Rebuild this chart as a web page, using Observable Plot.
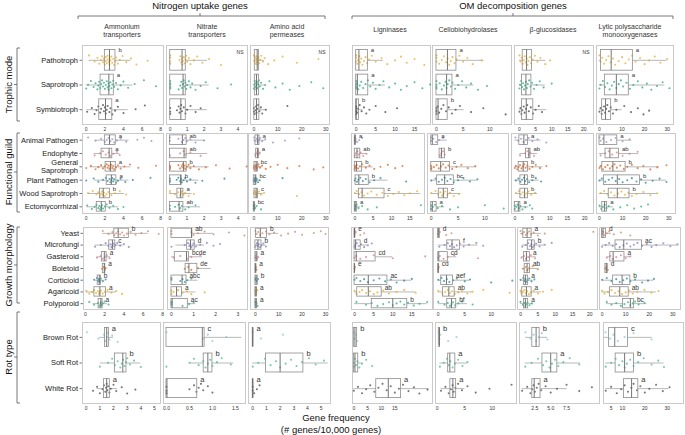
<!DOCTYPE html>
<html><head><meta charset="utf-8">
<script src="https://cdn.jsdelivr.net/npm/d3@7"></script>
<script src="https://cdn.jsdelivr.net/npm/@observablehq/plot@0.6"></script>
<style>
body{margin:0;background:#fff;font-family:"Liberation Sans",Arial,sans-serif;}
#wrap{position:relative;width:685px;height:435px;overflow:hidden;background:#fff;}
#wrap svg{position:absolute;overflow:visible;}
</style></head><body><div id="wrap"></div>
<script>
// ---------- DATA ----------
const groupTitles = ["Nitrogen uptake genes", "OM decomposition genes"];
const genes = ["Ammonium\ntransporters","Nitrate\ntransporters","Amino acid\npermeases","Ligninases","Cellobiohydrolases","β-glucosidases","Lytic polysaccharide\nmonooxygenases"];
const rowTitles = ["Trophic mode","Functional guild","Growth morphology","Rot type"];
const xTitle = ["Gene frequency","(# genes/10,000 genes)"];

const trophicCats = ["Pathotroph","Saprotroph","Symbiotroph"];
const guildCats = ["Animal Pathogen","Endophyte","General\nSaprotroph","Plant Pathogen","Wood Saprotroph","Ectomycorrhizal"];
const morphCats = ["Yeast","Microfungi","Gasteroid","Boletoid","Corticioid","Agaricoid","Polyporoid"];
const rotCats = ["Brown Rot","Soft Rot","White Rot"];

// tick labels per gene
const trophicTicks = [[0,2,4,6,8],[0,1,2,3,4],[0,10,20,30],[0,5,10,15],[0,5,10],[0,5,10,15,20],[0,10,20,30]];
const guildTicks   = [[0,2,4,6,8],[0,1,2,3,4],[0,10,20,30],[0,5,10,15],[0,5,10],[0,5,10,15,20],[0,10,20,30]];
const morphTicks   = [[0,2,4,6,8],[0,1,2,3],[0,10,20,30],[0,5,10,15],[0,5,10],[0,5,10,15,20],[0,10,20,30]];
const rotTicks     = [[0,1,2,3,4,5],[0,0.5,1,1.5],[0,1,2,3,4,5],[0,5,10,15],[0,5,10],[2.5,5,7.5],[5,10,20,30]];

// "NS" (not significant) panels
const trophicNS = [false,true,true,false,false,true,false];

// box stats: [gene][category] = [q1, median, q3, whiskerLow, whiskerHigh, letter]
const trophicStats = [
 [[2.0,2.5,3.14,0.3,4.8,"b"],[1.54,2.43,2.96,0,5.0,"a"],[1.4,2.07,2.8,0.1,4.5,"a"]],
 [[0,0.7,0.92,0,2.2,""],[0,0.76,0.92,0,2.3,""],[0,0.63,0.92,0,2.2,""]],
 [[0.4,1.4,2.1,0,4.6,""],[0.4,1.1,2.1,0,4.6,""],[0.2,1.1,2.3,0,5,""]],
 [[0,0.7,3.0,0,7,"a"],[0,0.3,3.1,0,7.5,"a"],[0,0,0.7,0,1.7,"b"]],
 [[0,2.06,3.75,0,8.9,"a"],[0,1.9,3.0,0,7,"a"],[0,0.3,2.1,0,5.2,"b"]],
 [[1.0,2.2,3.9,0,8.2,""],[0.8,2.0,3.7,0,8,""],[0.8,2.1,4.3,0,8.5,""]],
 [[0.7,5.2,14.8,0,30,"a"],[2.4,7.5,13,0,29,"a"],[1.2,2.7,5.2,0,10,"b"]]
];
const guildStats = [
 [[2.0,2.5,3.17,0.95,4.6,"a"],[1.65,2.46,2.8,0.85,3.6,"a"],[2.08,2.6,3.17,0.4,4.8,"a"],[2.2,2.7,3.24,0.9,4.6,"a"],[1.48,1.83,2.54,0.2,4.1,"b"],[1.13,1.62,2.1,0.1,3.5,"b"]],
 [[0,0.73,0.98,0,2.1,"ab"],[0,0.83,0.98,0,2.2,"ab"],[0,0.79,0.98,0,2.3,"b"],[0,0.63,0.69,0,1.7,"b"],[0.44,0.63,0.79,0,1.3,"a"],[0,0.54,0.79,0,1.8,"ab"]],
 [[0.7,1.6,2.4,0,4.8,"a"],[1,1.6,2.1,0.5,3,"a"],[0.3,1.0,1.7,0,3.8,"bc"],[0,0.6,1.1,0,2.5,"bc"],[0.3,1.0,1.8,0,4,"c"],[0,0.1,0.4,0,1,"bc"]],
 [[0,0,0.3,0,0.7,"a"],[0,0.6,1.5,0,3.2,"ab"],[0,0.45,2.0,0,5,"b"],[0.2,1.1,3.8,0,9,"b"],[1.1,2.0,8.1,0,18,"c"],[0,0.1,0.6,0,1.5,"a"]],
 [[0,0.2,1.3,0,3,"a"],[1.55,1.9,2.55,1.55,2.55,"b"],[0,1.75,3.5,0,8.5,"c"],[1.1,2.5,4.2,0,8.5,"bc"],[1.4,2.25,3.1,0,5.5,"c"],[0,0.2,1.0,0,2.5,"a"]],
 [[1.3,2.6,3.8,0,7.5,"a"],[3.2,4.0,4.5,1.5,6.5,"ab"],[1.1,2.4,3.8,0,8,"b"],[1.6,2.8,3.8,0,7,"b"],[1.6,2.8,3.8,0.3,6.5,"b"],[0,1.0,1.6,0,4,"a"]],
 [[0,1.9,7.7,0,14,"a"],[2.6,4.5,8.4,0,17,"ab"],[1.2,5.8,11.3,0,26,"b"],[1.9,7.7,17.5,0,29,"b"],[4,7.7,13,0,25,"b"],[1.2,2.2,3.3,0,6,"a"]]
];
const morphStats = [
 [[3.0,3.4,4.5,1.8,6.5,"b"],[2.47,2.8,3.1,1.0,4.0,"c"],[1.7,1.96,2.2,1.2,2.6,"a"],[1.8,1.96,2.06,1.7,2.2,"a"],[1.27,1.44,1.6,1.0,2.0,"b"],[0.93,1.5,2.13,0.07,3.2,"a"],[1.37,1.6,1.78,0.8,2.3,"a"]],
 [[0,0.91,0.94,0,1.9,"ab"],[0.71,0.86,1.05,0.2,1.5,"d"],[0.15,0.68,0.79,0,1.4,"bcde"],[0.64,0.79,1.17,0.6,1.8,"de"],[0,0.48,0.68,0,1.2,"abc"],[0,0.23,0.48,0,1.1,"a"],[0,0.03,0.74,0,1.1,"ac"]],
 [[0.3,2.1,5,0,10,"b"],[0,1.1,2.6,0,4.5,"b"],[0,0.3,0.9,0,1.2,"a"],[0,0.1,0.4,0,0.4,"a"],[0,0.3,1,0,1.1,"b"],[0,0.2,0.7,0,0.8,"a"],[0,0.2,0.7,0,0.9,"a"]],
 [[0,0,0.2,0,0.3,"e"],[0,0.27,1.6,0,3.5,"d"],[0,0.45,5.5,0,10,"cd"],[0,0,0.1,0,0.1,"e"],[0,3.6,8.6,0,15,"ac"],[0.7,3.6,7.1,0,16,"ab"],[4.5,10,13.8,0,19,"b"]],
 [[0,0,0.3,0,0.3,"d"],[1.7,2.6,4.1,0,7.5,"f"],[0,0.1,1.8,0,3.5,"cd"],[0,0,0.1,0,0.1,"cd"],[0.56,1.56,2.8,0,6,"aef"],[0.9,2.0,3.1,0,6.5,"ab"],[1.7,2.5,3.4,0,5.5,"bf"]],
 [[0.8,1.9,3.2,0,6,"a"],[2.1,3.2,4.1,0.5,7,"b"],[1.0,1.7,2.7,0.3,4.5,"a"],[1.2,1.9,2.7,0.5,5,"ab"],[1.0,1.4,2.2,0,3.5,"a"],[0.5,1.7,3.2,0,6,"a"],[1.0,1.4,2.2,0,3.5,"a"]],
 [[0,0.4,1.7,0,4,"d"],[5.7,9.2,17,0,32,"ac"],[3.5,4.7,9.5,2,12,"a"],[1.4,1.8,2.4,1.4,2.4,"d"],[4.7,8.5,12,0,22,"b"],[3.3,7.5,11.3,0,23,"ab"],[8.9,12,13.5,2,19,"bc"]]
];
const rotStats = [
 [[1.37,1.5,1.66,1.0,2.0,"a"],[2.1,2.68,2.95,1.05,4.0,"b"],[1.3,1.5,1.73,0.8,2.3,"a"]],
 [[0,0.78,0.83,0,1.64,"c"],[0.81,0.9,1.0,0.52,1.46,"b"],[0,0.01,0.67,0,0.67,"a"]],
 [[0,0,0.05,0,0.05,"a"],[0.97,2.0,3.7,0,5.5,"b"],[0,0,0.05,0,0.05,"a"]],
 [[0,0.4,1.2,0,1.2,"b"],[0,0.4,1.6,0,3,"b"],[8.2,12.6,17.3,0,27.4,"a"]],
 [[0.3,0.4,0.5,0.3,0.5,"b"],[2.0,2.3,3.3,0.5,5.5,"a"],[2.4,2.85,3.45,0.7,5,"a"]],
 [[2.1,2.7,3.26,1.05,4.5,"b"],[3.7,5.0,6.05,1.0,9.7,"a"],[2.1,2.4,3.4,0.5,7.6,"a"]],
 [[4.1,6.6,12.5,2,23.3,"c"],[7.0,11.0,15.2,2.6,28.5,"b"],[10.7,14.1,17.1,2.6,30.7,"a"]]
];

// individual genomes (estimated): [gene][category] = values
const trophicPoints = [
 [[0.3,0.9,1.2,1.4,1.6,1.7,1.8,1.9,2.0,2.1,2.1,2.2,2.3,2.3,2.4,2.5,2.5,2.6,2.7,2.8,2.9,3.0,3.1,3.2,3.4,3.6,3.9,4.3,4.8,5.4,6.6],
  [0,0.2,0.5,0.8,1.0,1.2,1.3,1.4,1.5,1.6,1.7,1.8,1.9,2.0,2.1,2.2,2.3,2.4,2.4,2.5,2.6,2.7,2.8,2.9,3.0,3.2,3.4,3.7,4.0,4.5,5.2,6.2,7.5],
  [0.1,0.6,0.9,1.1,1.3,1.5,1.6,1.8,1.9,2.0,2.1,2.2,2.3,2.5,2.6,2.8,3.1,3.4,4.0,5.3,6.3]],
 [[0,0,0,0,0.55,0.6,0.65,0.7,0.72,0.75,0.8,0.85,0.9,0.95,1.0,1.1,1.2,1.4,1.6,1.9,2.3,3.0],
  [0,0,0,0,0,0.5,0.6,0.65,0.7,0.75,0.8,0.85,0.9,0.95,1.0,1.1,1.2,1.3,1.5,1.8,2.1,2.8,3.6],
  [0,0,0,0.4,0.5,0.55,0.6,0.65,0.7,0.8,0.9,1.0,1.2,1.5,1.8]],
 [[0,0.3,0.5,0.7,0.9,1.0,1.2,1.3,1.5,1.7,1.9,2.2,2.6,3.1,3.8,4.5,6,8.5,12,18,27],
  [0,0.2,0.4,0.6,0.8,1.0,1.1,1.3,1.5,1.8,2.1,2.5,3.0,3.8,4.7,6.5,9,12,15,19,24,29],
  [0,0,0.3,0.6,0.9,1.1,1.4,1.8,2.3,2.9,3.5,5,14]],
 [[0,0,0,0.3,0.5,0.8,1.0,1.3,1.6,2.0,2.4,2.8,3.3,4,5,6.5,8,10,11.5,13,15,17.5],
  [0,0,0,0,0.2,0.5,0.9,1.3,1.8,2.4,3,3.6,4.3,5,6,7,8.5,10,11.5,13,15,17,19],
  [0,0,0,0,0,0.2,0.5,0.9,1.4,2,2.6,3.4,5,7.5,10.5]],
 [[0,0,0,0.5,1.0,1.4,1.8,2.1,2.4,2.7,3.0,3.4,3.8,4.3,5,5.8,6.8,8.5],
  [0,0,0,0,0.6,1.0,1.4,1.7,1.9,2.1,2.4,2.7,3.0,3.5,4.1,4.8,5.6,6.5,7.8,9.5],
  [0,0,0,0,0.2,0.5,0.9,1.3,1.8,2.3,2.9,3.6,4.4,6.5,8.8,13]],
 [[0,0.3,0.7,1.0,1.3,1.6,1.9,2.2,2.5,2.8,3.2,3.6,4.1,4.8,5.6,6.5,8,9.5],
  [0,0.2,0.5,0.8,1.1,1.4,1.7,2.0,2.3,2.6,3.0,3.4,3.9,4.5,5.3,6.3,7.5,10],
  [0,0.3,0.6,0.9,1.3,1.6,2.0,2.4,2.9,3.5,4.2,5,6,7]],
 [[0,0.5,1.2,2,3,4,5,6,7,8.5,10,11.5,13,14.5,16,18,20,22,24.5,27,30],
  [0,0.5,1.5,2.5,3.5,4.5,5.5,6.5,7.5,8.5,9.5,10.5,12,13.5,15,17,19,21,23,25.5,28,31],
  [0,0.5,1,1.5,2,2.5,3,3.5,4.2,5,6,7.5,11,14,17,19.5,22]]
];
const guildPoints = [
 [[0.2,1.0,1.6,2.0,2.2,2.4,2.6,2.8,3.0,3.3,3.7,4.3,5.5,6.2,7.0],[0.9,1.5,1.8,2.1,2.4,2.6,2.9,3.3,3.6],
  [0,0.5,1.0,1.3,1.6,1.8,2.0,2.2,2.3,2.4,2.5,2.6,2.7,2.8,2.9,3.0,3.2,3.4,3.7,4.1,4.7,5.6,7.5],
  [0,0.8,1.3,1.8,2.1,2.3,2.5,2.6,2.7,2.8,2.9,3.0,3.2,3.4,3.7,4.2,5.0,6.9],
  [0.2,0.7,1.1,1.3,1.5,1.6,1.7,1.8,1.9,2.0,2.2,2.4,2.7,3.1,3.6,4.3],
  [0.1,0.6,0.9,1.1,1.3,1.4,1.5,1.6,1.7,1.8,2.0,2.2,2.5,2.9,3.4,4.0]],
 [[0,0,0.5,0.7,0.8,0.9,1.0,1.2,1.5,2.0],[0,0.6,0.8,0.9,1.2,1.8],
  [0,0,0,0,0.5,0.6,0.7,0.75,0.8,0.85,0.9,1.0,1.1,1.2,1.4,1.7,2.1,2.7,3.5,4.5],
  [0,0,0,0.4,0.5,0.6,0.65,0.7,0.8,0.9,1.0,1.2,1.5,1.9,3.2],
  [0,0,0.3,0.5,0.6,0.65,0.7,0.8,0.9,1.1,1.4],[0,0,0.3,0.5,0.6,0.7,0.9,1.1,1.5]],
 [[0.2,0.8,1.3,1.7,2.1,2.6,3.5,4.8,8,13,19],[0.6,1.2,1.6,2.0,2.5],
  [0,0.2,0.5,0.8,1.0,1.3,1.6,2.0,2.6,3.5,5,7,10,14,19,25,29],
  [0,0.2,0.4,0.6,0.8,1.0,1.3,1.8,2.5,12],[0,0.3,0.6,0.9,1.2,1.6,2.2,3,4.3,18],[0,0,0.1,0.3,0.6,1.2,3]],
 [[0,0,0.2,0.6,1.2,2],[0,0.3,0.7,1.1,1.6,2.3,3.2],[0,0,0,0.2,0.5,0.9,1.4,2,3,4,5.3,7,9,11,13],
  [0,0.2,0.6,1.0,1.5,2.2,3,4,5.3,7,14],[0,0.5,1.2,1.8,2.5,3.5,4.5,6,7.5,9,10.5,12,13.5,15,17],[0,0,0.2,0.5,1,2,3.5,6,18]],
 [[0,0,0.4,0.9,1.5,2.2],[1.6,1.9,2.2,2.5],[0,0,0,0.5,1.0,1.4,1.8,2.2,2.7,3.2,3.9,4.7,5.6,6.8,8.2],
  [0,0.8,1.4,2.0,2.5,3.0,3.6,4.2,5,6,7.2,8.6],[0,0.8,1.3,1.7,2.0,2.3,2.6,3.0,3.5,4.2,5.2],[0,0,0.3,0.7,1.2,2.0,3.5,5,10,13.5]],
 [[0.2,1.0,1.8,2.5,3.2,4.0,5,6.5,9],[1.5,3.0,3.6,4.0,4.4,5.5],[0,0.3,0.7,1.1,1.5,1.9,2.3,2.7,3.1,3.6,4.2,5,6,7.2,9],
  [0.3,1.0,1.6,2.1,2.6,3.0,3.5,4.1,5,6,7.5],[0.3,1.2,1.8,2.3,2.8,3.3,3.9,4.7,5.8],[0,0,0.4,0.8,1.2,1.6,2.2,3,4.3,5]],
 [[0,0.5,1.5,3,5,7,10,13],[0.5,2.5,4,5.5,7.5,10,13,16.5],[0,0.5,1.5,2.5,3.5,4.5,5.5,6.5,7.5,9,10.5,12,14,16.5,19,22,25,29],
  [0,1,2.5,4,5.5,7,8.5,10,12,14,16,18,20,23,26,29],[0.5,2,3.5,5,6.5,8,9.5,11,12.5,14,16,19,22,25],[0,0.8,1.5,2.2,3.0,4,6,9,12,15,18,21]]
];
const morphPoints = [
 [[1.8,2.4,2.8,3.0,3.2,3.4,3.6,3.8,4.0,4.3,4.7,5.2,5.8,6.5,7.6],[1.0,1.6,2.1,2.4,2.6,2.7,2.8,2.9,3.0,3.1,3.3,3.6,4.0,4.5],
  [1.2,1.6,1.8,2.0,2.2,2.5],[1.75,1.9,2.0,2.1],[0.9,1.2,1.3,1.4,1.45,1.5,1.6,1.8,2.1],
  [0.1,0.4,0.7,0.9,1.1,1.3,1.4,1.5,1.6,1.8,2.0,2.3,2.7,3.2,3.8],[0.4,0.9,1.3,1.45,1.55,1.6,1.7,1.8,2.0,2.4]],
 [[0,0,0.9,1.0,1.2,1.5,1.9,2.6,3.3],[0,0.6,0.75,0.8,0.85,0.9,0.95,1.0,1.1,1.3,1.6,1.9,2.2],[0.1,0.4,0.7,0.9,1.3],
  [0.6,0.75,0.9,1.2],[0,0,0.4,0.5,0.6,0.7,0.9],[0,0,0.1,0.3,0.5,0.7,0.9,1.5],[0,0,0,0.5,0.8,1.0]],
 [[0,0.5,1.2,2,3,4.5,6,8,11,14,17,20,25,28,30],[0,0.3,0.7,1.1,1.5,2,2.6,3.4,4.5],[0,0.3,0.7,1.2],[0,0.2,0.4],
  [0,0.2,0.6,1.1],[0,0.1,0.4,0.8],[0,0.2,0.5,0.9]],
 [[0,0,0.3,1.5,2.5],[0,0.2,0.6,1.1,1.7,2.5,3.5,4.5],[0,0.4,1.5,3,5,10,18.5],[0,0.1],
  [0,0.5,1.5,2.5,3.5,5,6.5,8,9.5,11,13,15],[0,0.5,1.3,2,3,4,5,6,7.5,9,11,13,16],[0.5,3,4.5,6,7.5,9,10,11,12,13,14,15.5,17,19]],
 [[0,0,0.3,1.5,2.5],[0.2,1.2,1.8,2.2,2.6,3.0,3.5,4.1,4.8,5.8,7.2,8.5],[0,0.3,1,1.8,3,7.5],[0,0.1],
  [0,0.6,1.1,1.6,2.1,2.8,3.5,5,6,10,14],[0,0.8,1.3,1.8,2.2,2.6,3.1,3.8,4.5,5.5,6.5,8.5,13.5],[0,1.2,1.8,2.2,2.5,2.8,3.2,3.8,4.5,6.5]],
 [[0,0.5,1.0,1.5,2.0,2.5,3.0,3.8,5,7,21],[0.5,1.5,2.2,2.7,3.1,3.5,3.9,4.5,5.5,7,9],[0.3,1.0,1.6,2.2,3.0,4.2],
  [0.8,1.5,2.0,2.5,3.5,5],[0,0.8,1.2,1.4,1.7,2.0,2.5,3.2,4],[0,0.3,0.7,1.1,1.5,1.9,2.4,3.0,3.8,5,6.5,9],[0,0.7,1.1,1.4,1.7,2.0,2.6,3.3]],
 [[0,0,0.5,1,2,3,5,8,12],[0,1.5,3,4.5,6,7.5,9,10.5,12,13.5,15,17,19,21,23,26,29,32],[2,3.5,4.5,6,8,10,12],[1.4,1.8,2.4],
  [0,2,4,6,7.5,9,10.5,12,14,17,19.5,22],[0,1,2.5,4,5.5,7,8.5,10,11.5,13,15,18,21,24],[2,4,6,8,9.5,11,12,13,14,15.5,18]]
];
const rotPoints = [
 [[0.05,0.9,1.3,1.4,1.5,1.6,1.7,1.9,2.3],[1.0,1.6,1.9,2.1,2.3,2.5,2.6,2.7,2.8,2.9,3.0,3.2,3.5,4.0],
  [0.5,0.8,1.0,1.2,1.3,1.4,1.45,1.5,1.55,1.6,1.7,1.8,2.0,2.2,2.6,3.0,3.6]],
 [[0,0.8,0.9,1.0,1.3],[0,0.5,0.6,0.7,0.8,0.85,0.9,0.95,1.0,1.1,1.2,1.4],[0,0,0,0.5,0.6,0.65,0.7,0.75,0.8,0.9,1.0]],
 [[0,0.6,2.2],[0,0.4,0.9,1.3,1.7,2.0,2.4,2.8,3.2,3.6,4.1,4.6,5.2],[0,0,0.1,0.3,0.5]],
 [[0,0.3,0.8,1.2],[0,0,0.3,0.8,1.3,2,3,4.5,6.7],[0,1.5,3,4.5,6,7.5,9,10.5,12,13.5,15,16.5,18,20,22,24,27]],
 [[0.3,0.4,0.6,2,3.5],[0.5,1.2,1.8,2.1,2.4,2.8,3.2,3.8,4.6,5.5],[0.7,1.5,2.1,2.5,2.8,3.0,3.3,3.8,4.5,5.5,7,9.5,13.5]],
 [[1.0,1.8,2.3,2.7,3.1,3.6,4.5],[1.0,2.0,3.0,3.8,4.3,4.8,5.2,5.7,6.2,7.0,8.0,9.5],[0.5,1.3,1.8,2.1,2.3,2.5,2.8,3.1,3.5,4.2,5,6,7.5,9.5,11.5]],
 [[2.5,4.5,6,8,11,15,23],[2.6,5,7,8.5,10,11,12,13.5,15,17,19.5,23,26,28.5],[2.6,5,7.5,9.5,11,12.5,14,15,16.5,18,20,22,25,28,31]]
];

// ---------- STYLE / LAYOUT ----------
const trophicColors = ["#E5A823","#1DA37A","#3a3a3a"];
const guildColors = ["#8C84C2","#D9777F","#D95F1B","#197E8B","#E6AA20","#22A57C"];
const morphColors = ["#C9825F","#7A77B7","#E06F8A","#DD6612","#1A7F8E","#E6A815","#22A57C"];
const rotColors = ["#86BDD0","#3BB58B","#3f3f3f"];

const rows = [
 {cats: trophicCats, colors: trophicColors, stats: trophicStats, pts: trophicPoints, ticks: trophicTicks, ns: trophicNS},
 {cats: guildCats, colors: guildColors, stats: guildStats, pts: guildPoints, ticks: guildTicks, ns: null},
 {cats: morphCats, colors: morphColors, stats: morphStats, pts: morphPoints, ticks: morphTicks, ns: null},
 {cats: rotCats, colors: rotColors, stats: rotStats, pts: rotPoints, ticks: rotTicks, ns: null}
];
const layout = [
 {y:[45,124], pad:0.6, h:0.42, lf:6,
  cols:[[82,163],[166,247],[250,329],[352,430],[432,511],[514,593],[596,673]],
  dom:[[-0.4,8.3],[-0.22,4.57],[-1.4,31.6],[-0.95,19.1],[-0.75,14.1],[-1.55,23],[-1.3,32.8]]},
 {y:[133,213], pad:0.5, h:0.36, lf:6,
  cols:[[82,163],[166,247],[248,329],[351,424],[427,508],[511,593],[596,675]],
  dom:[[-0.4,8.3],[-0.2,4.55],[-2.2,31.6],[-0.9,19.0],[-0.7,14.4],[-0.94,22.5],[-1.3,32.9]]},
 {y:[227,309], pad:0.5, h:0.4, lf:6.5,
  cols:[[83,163],[167,247],[250,328],[351,432],[433,515],[517,597],[599,680]],
  dom:[[-0.2,8.1],[-0.18,3.44],[-2.1,31.3],[-0.8,20.4],[-0.9,14.6],[-0.87,22.2],[-1.1,33.3]]},
 {y:[322,403], pad:0.58, h:0.37, lf:7.5,
  cols:[[82,160],[163,245],[248,330],[352,432],[435,516],[519,599],[603,683]],
  dom:[[-0.27,5.44],[-0.065,1.72],[-0.31,5.68],[-0.5,28.8],[-0.3,14.4],[0.08,12.7],[1.6,37.2]]}
];
const FONT = "'Liberation Sans', Arial, sans-serif";
const jit = k => (((k * 0.6180339887) % 1) - 0.5) * 0.4;

const wrap = document.getElementById("wrap");

rows.forEach((row, r) => {
  const L = layout[r];
  const n = row.cats.length;
  genes.forEach((gene, g) => {
    const [x0, x1] = L.cols[g];
    const [y0, y1] = L.y;
    const ml = g === 0 ? 82 : 1, mr = 1, mt = 1, mb = 12;
    const boxes = row.cats.map((c, i) => {
      const s = row.stats[g][i];
      return {i, c, q1: s[0], med: s[1], q3: s[2], lo: s[3], hi: s[4], letter: s[5], color: row.colors[i]};
    });
    const pts = [];
    row.cats.forEach((c, i) => row.pts[g][i].forEach((v, k) => pts.push({v, y: i + jit(k + i * 3), color: row.colors[i]})));
    const ticks = row.ticks[g];
    const fmt = ticks.some(t => !Number.isInteger(t)) ? d3.format(".1f") : d3.format("d");
    const h = L.h;
    const marks = [
      Plot.frame({stroke: "#cacaca", strokeWidth: 1}),
      Plot.axisX({ticks, tickFormat: fmt, tickSize: 0, tickPadding: 3, fontSize: 5, fill: "#333"}),
      Plot.ruleY(boxes, {y: "i", x1: "lo", x2: "q1", stroke: "#8a8a8a", strokeWidth: 0.6}),
      Plot.ruleY(boxes, {y: "i", x1: "q3", x2: "hi", stroke: "#8a8a8a", strokeWidth: 0.6}),
      Plot.dot(pts, {x: "v", y: "y", r: 1.05, fill: "color", fillOpacity: 0.7, stroke: null}),
      Plot.rect(boxes, {x1: "q1", x2: "q3", y1: d => d.i - h, y2: d => d.i + h, fill: "none", stroke: "#8c8c8c", strokeWidth: 0.8}),
      Plot.ruleX(boxes, {x: "med", y1: d => d.i - h, y2: d => d.i + h, stroke: "#666", strokeWidth: 0.9}),
      Plot.text(boxes.filter(b => b.letter), {x: "q3", y: d => d.i - h, text: "letter", dx: 3, dy: 0.5, textAnchor: "start", lineAnchor: "middle", fontSize: L.lf, fill: "#333"})
    ];
    if (g === 0) marks.push(Plot.axisY({ticks: d3.range(n), tickFormat: i => row.cats[i], tickSize: 2.5, tickPadding: 2, fontSize: 7.5, fill: "#222", stroke: "#777"}));
    if (row.ns && row.ns[g]) marks.push(Plot.text(["NS"], {frameAnchor: "top-right", dx: -4, dy: 5, fontSize: 5, fill: "#333"}));
    const svg = Plot.plot({
      width: (x1 - x0) + ml + mr, height: (y1 - y0) + mt + mb,
      marginLeft: ml, marginRight: mr, marginTop: mt, marginBottom: mb,
      x: {domain: L.dom[g], axis: null},
      y: {domain: [n - 1 + L.pad, -L.pad], axis: null},
      style: {fontFamily: FONT, background: "transparent", overflow: "visible"},
      marks
    });
    svg.style.left = (x0 - ml) + "px";
    svg.style.top = (y0 - mt) + "px";
    wrap.appendChild(svg);
  });
});

// ---------- ANNOTATIONS ----------
const ov = d3.select(wrap).append("svg").attr("width", 685).attr("height", 435)
  .style("left", "0px").style("top", "0px").style("font-family", FONT);
const ink = "#333";
// group titles and braces
const gSpans = [[78, 325, 200], [352, 673, 513]];
groupTitles.forEach((t, i) => {
  const [a, b, c] = gSpans[i];
  ov.append("text").attr("x", c).attr("y", 9).attr("text-anchor", "middle").attr("font-size", 9.5).attr("fill", "#111").text(t);
  ov.append("path").attr("d", `M${a},19V16H${b}V19M${c},16V13`).attr("fill", "none").attr("stroke", "#555").attr("stroke-width", 0.8);
});
// gene column headers
const headX = [122, 207, 287, 390, 468, 553, 630];
genes.forEach((gname, i) => {
  const lines = gname.split("\n");
  const t = ov.append("text").attr("text-anchor", "middle").attr("font-size", 7).attr("fill", ink);
  const y = lines.length === 1 ? 32 : 29;
  lines.forEach((ln, k) => t.append("tspan").attr("x", headX[i]).attr("y", y + k * 8.3).text(ln));
});
// row titles and braces
const rSpans = [[48, 121, 84.5], [133, 212, 172], [227, 303, 265], [312, 403, 357]];
rowTitles.forEach((t, i) => {
  const [a, b, c] = rSpans[i];
  ov.append("text").attr("transform", `translate(8,${c}) rotate(-90)`).attr("text-anchor", "middle")
    .attr("dominant-baseline", "central").attr("font-size", 9.5).attr("fill", "#111").text(t);
  ov.append("path").attr("d", `M20,${a}H17V${b}H20M17,${c}H14`).attr("fill", "none").attr("stroke", "#555").attr("stroke-width", 0.8);
});
// x title
ov.append("text").attr("x", 336).attr("y", 421).attr("text-anchor", "middle").attr("font-size", 9.5).attr("fill", "#111").text(xTitle[0]);
ov.append("text").attr("x", 331).attr("y", 433).attr("text-anchor", "middle").attr("font-size", 9.5).attr("fill", "#111").text(xTitle[1]);
</script></body></html>
